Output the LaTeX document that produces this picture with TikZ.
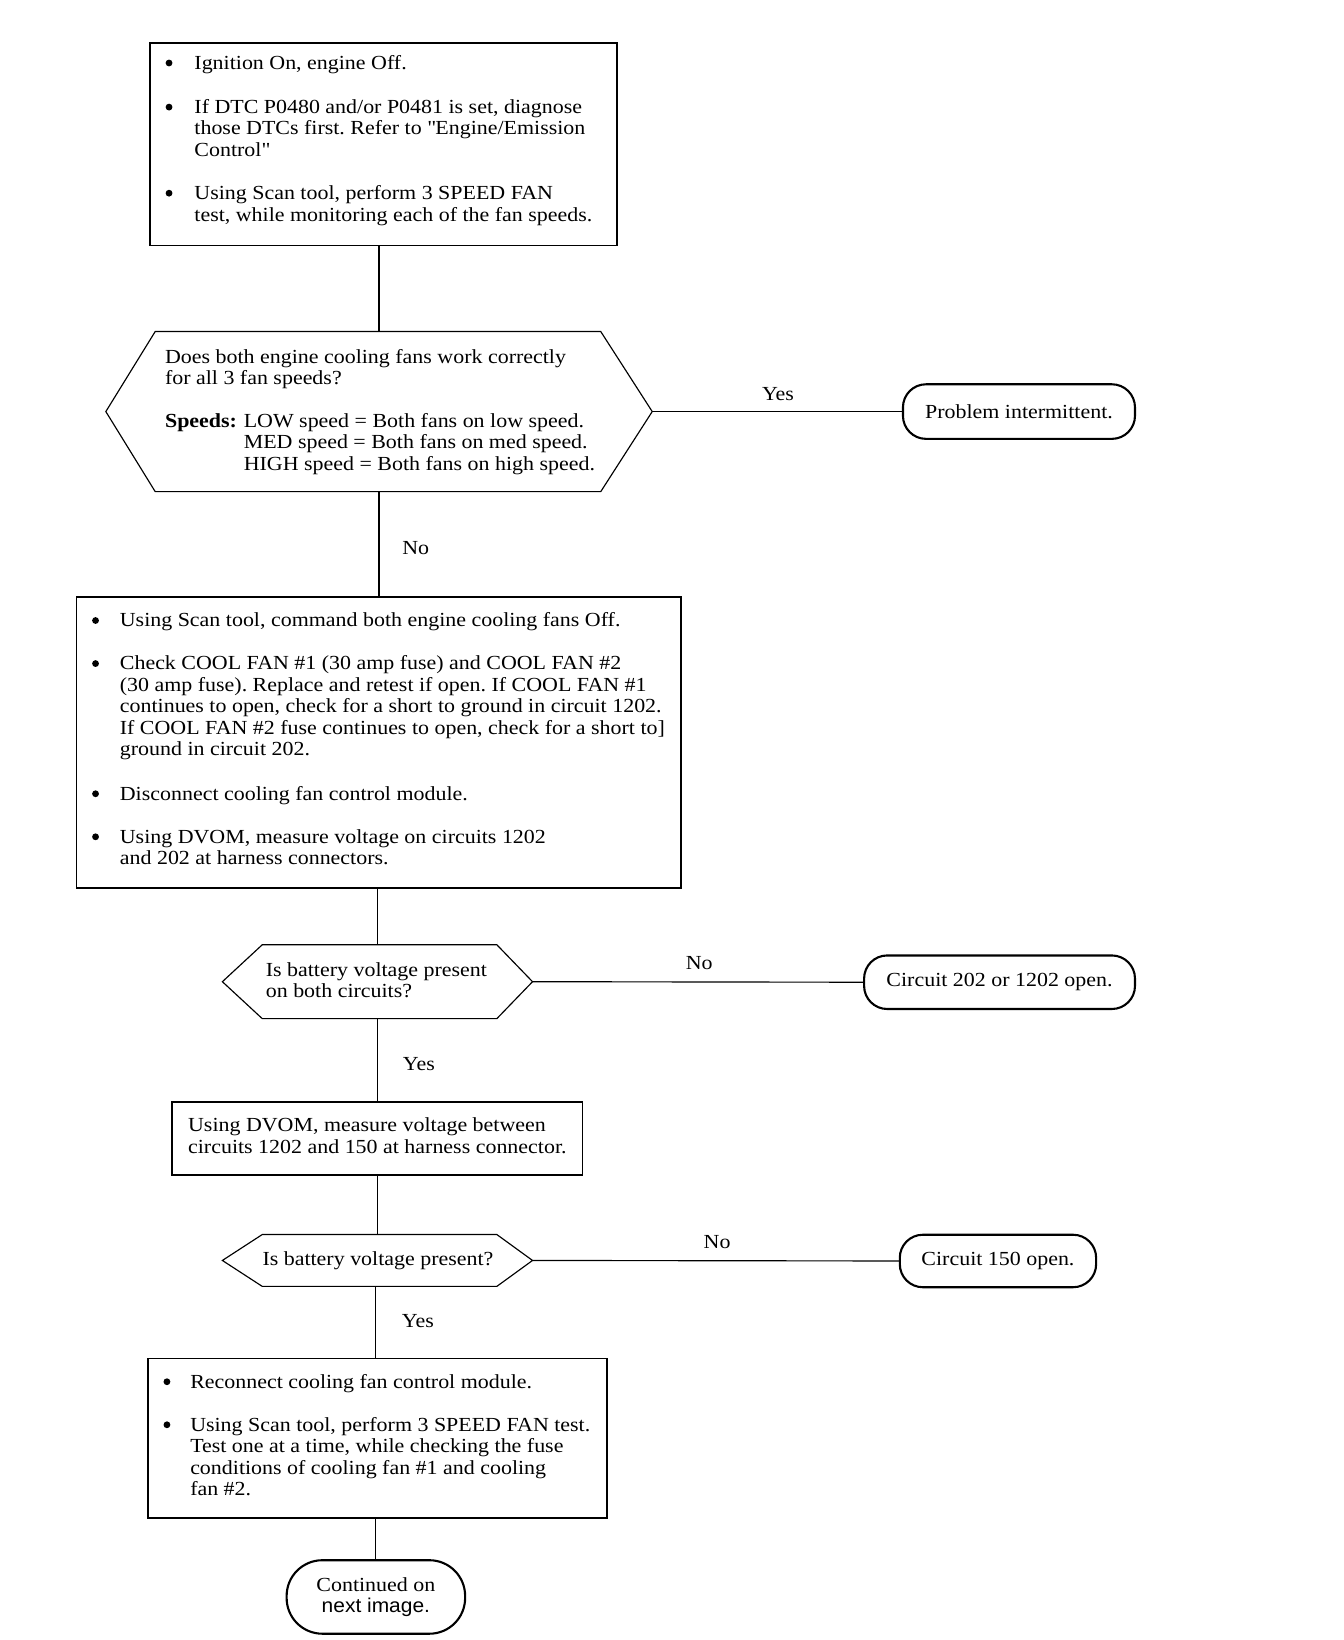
\documentclass[tikz,border=0pt]{standalone}
\usepackage{fontspec}
\setmainfont{Liberation Serif}[FakeStretch=1.1]
\newfontfamily\sansf{Liberation Sans}[FakeStretch=1.05]
\newcommand{\fs}{\fontsize{19}{20.5}\selectfont\frenchspacing}
\newcommand{\mylines}[1]{\parbox[t]{700pt}{\raggedright #1}}
\begin{document}
\begin{tikzpicture}[x=1pt,y=-1pt,
  procbox/.style={draw, line width=1.7pt, inner sep=0pt, anchor=north west},
  hexbox/.style={inner sep=0pt},
  hexline/.style={line width=1.1pt, line join=miter},
  term/.style={draw, line width=2pt, inner sep=0pt, font=\fs, align=center},
  conn/.style={line width=1.1pt},
  txt/.style={inner sep=0pt, anchor=base west, font=\fs},
  bul/.style={circle, fill, inner sep=0pt, minimum size=6.5pt},
  lbl/.style={inner sep=0pt, font=\fs}]
\useasboundingbox (0,0) rectangle (1280,1562);

% ---------- top box ----------
\node[procbox, minimum width=445pt, minimum height=193pt] (b1) at (142,40) {};
\node[bul] (b1u1) at (161,60) {};
\node[txt] (b1t1) at (185,66) {\mylines{Ignition On, engine Off.}};
\node[bul] (b1u2) at (161,102) {};
\node[txt] (b1t2) at (185,108) {\mylines{If DTC P0480 and/or P0481 is set, diagnose\\those DTCs first. Refer to \textquotedbl Engine/Emission\\Control\textquotedbl}};
\node[bul] (b1u3) at (161,184) {};
\node[txt] (b1t3) at (185,190) {\mylines{Using Scan tool, perform 3 SPEED FAN\\test, while monitoring each of the fan speeds.}};

% ---------- hexagon 1 ----------
\node[hexbox, minimum width=520pt, minimum height=152pt] (h1) at (361,392) {};
\draw[hexline] (h1.west) -- ([xshift=47pt]h1.north west) -- ([xshift=-49pt]h1.north east)
  -- (h1.east) -- ([xshift=-49pt]h1.south east) -- ([xshift=47pt]h1.south west) -- cycle;
\node[txt] (h1t1) at (157,346) {\mylines{Does both engine cooling fans work correctly\\for all 3 fan speeds?}};
\node[txt] (h1t2) at (157,407) {\bfseries Speeds:};
\node[txt] (h1t3) at (232,407) {\mylines{LOW speed = Both fans on low speed.\\MED speed = Both fans on med speed.\\HIGH speed = Both fans on high speed.}};

\node[term, minimum width=221pt, minimum height=52pt, rounded corners=22pt] (t1) at (970.5,392) {Problem intermittent.};

% ---------- box 2 ----------
\node[procbox, minimum width=576pt, minimum height=277pt] (b2) at (72,568) {};
\node[bul] (b2u1) at (91,591) {};
\node[txt] (b2t1) at (114,597) {\mylines{Using Scan tool, command both engine cooling fans Off.}};
\node[bul] (b2u2) at (91,632) {};
\node[txt] (b2t2) at (114,638) {\mylines{Check COOL FAN \#1 (30 amp fuse) and COOL FAN \#2\\(30 amp fuse). Replace and retest if open. If COOL FAN \#1\\continues to open, check for a short to ground in circuit 1202.\\If COOL FAN \#2 fuse continues to open, check for a short to]\\ground in circuit 202.}};
\node[bul] (b2u3) at (91,756) {};
\node[txt] (b2t3) at (114,762) {\mylines{Disconnect cooling fan control module.}};
\node[bul] (b2u4) at (91,797) {};
\node[txt] (b2t4) at (114,803) {\mylines{Using DVOM, measure voltage on circuits 1202\\and 202 at harness connectors.}};

% ---------- hexagon 2 ----------
\node[hexbox, minimum width=295pt, minimum height=70pt] (h2) at (359.5,935) {};
\draw[hexline] (h2.west) -- ([xshift=38pt]h2.north west) -- ([xshift=-34pt]h2.north east)
  -- (h2.east) -- ([xshift=-34pt]h2.south east) -- ([xshift=38pt]h2.south west) -- cycle;
\node[txt] (h2t) at (253,930) {\mylines{Is battery voltage present\\on both circuits?}};

\node[term, minimum width=258pt, minimum height=51pt, rounded corners=22pt] (t2) at (952,935.5) {Circuit 202 or 1202 open.};

% ---------- box 3 ----------
\node[procbox, minimum width=391pt, minimum height=69pt] (b3) at (163,1049) {};
\node[txt] (b3t) at (179,1078) {\mylines{Using DVOM, measure voltage between\\circuits 1202 and 150 at harness connector.}};

% ---------- hexagon 3 ----------
\node[hexbox, minimum width=295pt, minimum height=49pt] (h3) at (359.5,1200.5) {};
\draw[hexline] (h3.west) -- ([xshift=38pt]h3.north west) -- ([xshift=-34pt]h3.north east)
  -- (h3.east) -- ([xshift=-34pt]h3.south east) -- ([xshift=38pt]h3.south west) -- cycle;
\node[inner sep=0pt, anchor=base, font=\fs] (h3t) at (360,1205) {Is battery voltage present?};

\node[term, minimum width=187pt, minimum height=50pt, rounded corners=22pt] (t3) at (950.5,1201) {Circuit 150 open.};

% ---------- box 4 ----------
\node[procbox, minimum width=437pt, minimum height=152pt] (b4) at (140,1293) {};
\node[bul] (b4u1) at (159,1316) {};
\node[txt] (b4t1) at (181,1322) {\mylines{Reconnect cooling fan control module.}};
\node[bul] (b4u2) at (159,1357) {};
\node[txt] (b4t2) at (181,1363) {\mylines{Using Scan tool, perform 3 SPEED FAN test.\\Test one at a time, while checking the fuse\\conditions of cooling fan \#1 and cooling\\fan \#2.}};

\node[term, minimum width=170pt, minimum height=70pt, rounded corners=34pt] (t4) at (358,1521) {Continued on\\{\sansf next image.}};

% ---------- connectors ----------
\draw[conn] (h1.north |- b1.south) -- (h1.north);
\draw[conn] (h1.south) -- (h1.south |- b2.north);
\draw[conn] (h1.east) -- (t1.west);
\draw[conn] (h2.north |- b2.south) -- (h2.north);
\draw[conn] (h2.east) -- (t2.west);
\draw[conn] (h2.south) -- (h2.south |- b3.north);
\draw[conn] (h3.north |- b3.south) -- (h3.north);
\draw[conn] (h3.east) -- (t3.west);
\draw[conn] (b4.north -| t4.north) -- (h3.south -| t4.north);
\draw[conn] (b4.south -| t4.north) -- (t4.north);

% ---------- labels ----------
\node[lbl] (l1) at (741,375) {Yes};
\node[lbl] (l2) at (396,522) {No};
\node[lbl] (l3) at (666,917) {No};
\node[lbl] (l4) at (399,1013) {Yes};
\node[lbl] (l5) at (683,1183) {No};
\node[lbl] (l6) at (398,1258) {Yes};
\end{tikzpicture}
\end{document}
